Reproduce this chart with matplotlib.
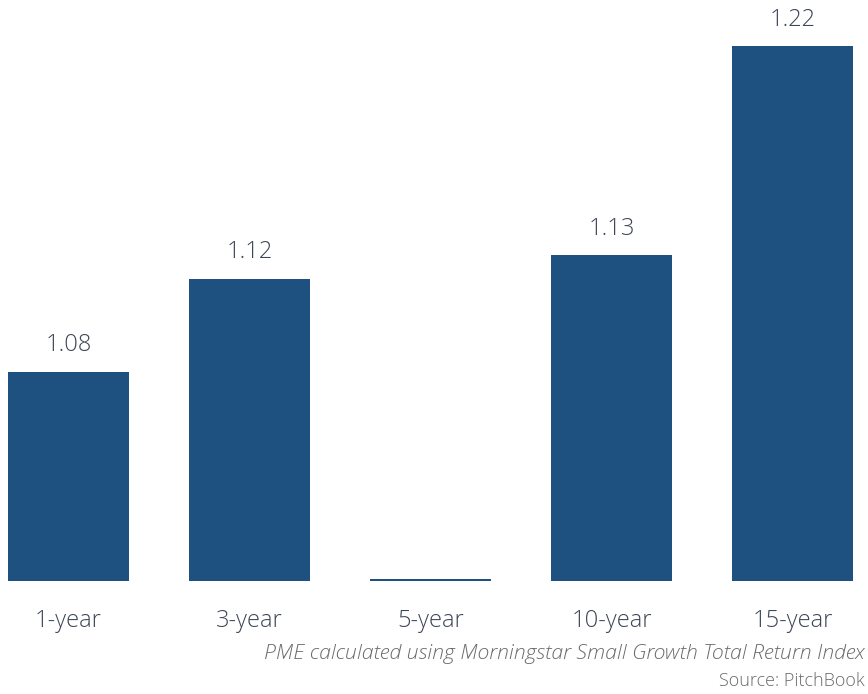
import matplotlib.pyplot as plt
import numpy as np

plt.rcParams['font.family'] = ['Open Sans', 'DejaVu Sans']

periods = ['1-year', '3-year', '5-year', '10-year', '15-year']
pme = [1.08, 1.12, 0.991, 1.13, 1.22]
labels = ['1.08', '1.12', '', '1.13', '1.22']

bar_color = '#1f5180'
text_color = '#3d4656'
note_color = '#6b6b6b'

fig = plt.figure(figsize=(8.68, 6.94), dpi=100)
ax = fig.add_axes([0, 113 / 694, 1, 581 / 694])

x = np.arange(len(periods))
bars = ax.bar(x, pme, width=0.67, color=bar_color)

ax.set_xlim(-68.5 / 181, (868 - 68.5) / 181)
ax.set_ylim(0.99, 0.99 + 581 / 2326)

for b, lab in zip(bars, labels):
    if lab:
        ax.annotate(lab, (b.get_x() + b.get_width() / 2, b.get_height()),
                    xytext=(0, 19), textcoords='offset points',
                    ha='center', va='center', fontsize=17, fontweight='light',
                    color=text_color)

ax.set_xticks(x)
ax.set_xticklabels(periods, fontsize=17, fontweight='light', color=text_color)
ax.tick_params(axis='x', length=0, pad=20)
ax.set_yticks([])
for s in ax.spines.values():
    s.set_visible(False)

fig.text(865 / 868, 1 - 654 / 694, 'PME calculated using Morningstar Small Growth Total Return Index',
         ha='right', va='center', fontsize=15.3, style='italic', fontweight='light',
         color=note_color)
fig.text(865 / 868, 1 - 681 / 694, 'Source: PitchBook',
         ha='right', va='center', fontsize=13, fontweight='light', color=note_color)

fig.savefig('out.png', dpi=100)
